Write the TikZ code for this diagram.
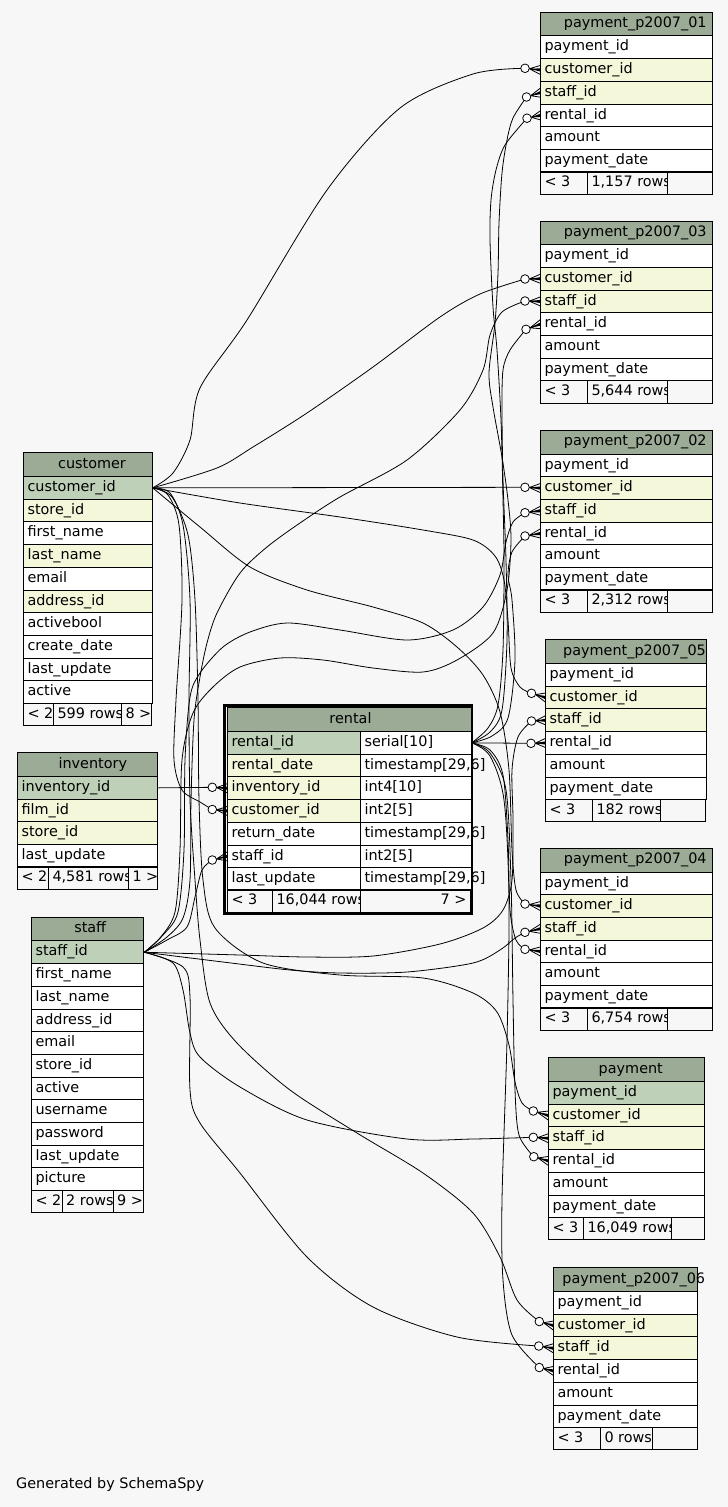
\documentclass[tikz,border=0pt]{standalone}
\usepackage{fontspec}
\setmainfont{DejaVu Sans}
\usetikzlibrary{calc}
\definecolor{headcol}{HTML}{9BAB96}
\definecolor{keycol}{HTML}{BED1B8}
\definecolor{idxcol}{HTML}{F4F7DA}
\definecolor{bgcol}{HTML}{F7F7F7}
\newcommand{\tabfont}{\fontsize{14.4}{17}\selectfont}
% table: name, x, y, width, title, rows, title shift
\newcommand{\dbtable}[7]{%
 \node[headcell, minimum width=#4pt] (#1) at (#2,#3) {};
 \node[headtext] (#1-title) at ($(#1.center)+(#7,3.65)$) {#5};
 \foreach \col/\lab/\kind [count=\i] in #6 {
  \node[rowcell, fill=\kind, minimum width=#4pt] (#1-\col) at (#2,#3+1+\i*22.7) {};
  \node[celltext] (#1-\col-txt) at ($(#1-\col.west)+(4,3.65)$) {\lab};
 }
}
% footer: name, x, y, right, divider 1, divider 2, texts
\newcommand{\dbfooter}[9]{%
 \draw[footline] (#2,#3) rectangle (#5,#3+22.7) (#5,#3) rectangle (#6,#3+22.7)
   (#6,#3) rectangle (#4,#3+22.7);
 \node[celltext] (#1-prev) at (#2+4,#3+15) {#7};
 \begin{scope}
  \clip (#5,#3) rectangle (#6,#3+22.7);
  \node[celltext] (#1-rows) at (#5+4,#3+15) {#8};
 \end{scope}
 \node[celltext] (#1-next) at (#6+4,#3+15) {#9};
}
% foreign key end: crow and circle
\newcommand{\fkend}[2]{%
 \coordinate (#1-a) at ($(#1)!4.3pt!(#2)$);
 \draw[fkcrow] (#1-a) -- ($(#2)+(0,-4.5)$) (#1-a) -- (#2) (#1-a) -- ($(#2)+(0,4.5)$);
 \fill (#1-a) -- ($(#2)+(0,-1.6)$) -- ($(#2)+(0,1.6)$) -- cycle;
 \node[fkdot] (#1-dot) at (#1) {};
}
\def\custrows{custid/customer\_id/keycol,storeid/store\_id/idxcol,%
first/first\_name/white,last/last\_name/idxcol,email/email/white,%
addrid/address\_id/idxcol,activeb/activebool/white,created/create\_date/white,%
update/last\_update/white,active/active/white}
\def\invrows{invid/inventory\_id/keycol,filmid/film\_id/idxcol,%
storeid/store\_id/idxcol,update/last\_update/white}
\def\staffrows{staffid/staff\_id/keycol,first/first\_name/white,%
last/last\_name/white,addrid/address\_id/white,email/email/white,%
storeid/store\_id/white,active/active/white,user/username/white,%
pass/password/white,update/last\_update/white,picture/picture/white}
\def\payrows{payid/payment\_id/white,custid/customer\_id/idxcol,%
staffid/staff\_id/idxcol,rentid/rental\_id/white,amount/amount/white,%
paydate/payment\_date/white}
\def\paykeyrows{payid/payment\_id/keycol,custid/customer\_id/idxcol,%
staffid/staff\_id/idxcol,rentid/rental\_id/white,amount/amount/white,%
paydate/payment\_date/white}
\def\rentalrows{rentid/rental\_id/serial[10]/keycol,%
rentdate/rental\_date/{timestamp[29,6]}/idxcol,%
invid/inventory\_id/int4[10]/idxcol,custid/customer\_id/int2[5]/idxcol,%
retdate/return\_date/{timestamp[29,6]}/white,staffid/staff\_id/int2[5]/white,%
update/last\_update/{timestamp[29,6]}/white}

\begin{document}
\begin{tikzpicture}[x=1pt,y=-1pt]
% Styles
 \tikzstyle{headcell}=[draw,fill=headcol,anchor=north west,inner sep=0,minimum height=23.7pt,line width=1pt]
 \tikzstyle{rowcell}=[draw,fill=white,anchor=north west,inner sep=0,minimum height=22.7pt,line width=1pt]
 \tikzstyle{celltext}=[anchor=base west,inner sep=0,font=\tabfont]
 \tikzstyle{headtext}=[anchor=base,inner sep=0,font=\tabfont]
 \tikzstyle{footline}=[draw,line width=1pt]
 \tikzstyle{fkline}=[line width=0.8pt]
 \tikzstyle{fkcrow}=[line width=0.8pt]
 \tikzstyle{fkdot}=[circle,draw,fill=white,inner sep=0,minimum size=8.6pt,line width=0.8pt]
% Background
 \useasboundingbox (0,0) rectangle (728,1507);
 \fill[bgcol] (0,0) rectangle (728,1507);
% Left tables
 \dbtable{cust}{23.3}{452.3}{128.4}{customer}{\custrows}{4}
 \dbfooter{cust}{23.3}{703}{151.7}{53.3}{121.3}{< 2}{599 rows}{8 >}
 \dbtable{inv}{17.3}{752.3}{140}{inventory}{\invrows}{5}
 \dbfooter{inv}{17.3}{866.8}{157.3}{48.3}{128.3}{< 2}{4,581 rows}{1 >}
 \dbtable{staff}{31.3}{916.7}{112}{staff}{\staffrows}{2.4}
 \dbfooter{staff}{31.3}{1190.1}{143.3}{62}{113}{< 2}{2 rows}{9 >}
% Rental
 \node[headcell,minimum width=243.4pt] (rental) at (227.3,707.3) {};
 \node[headtext] (rental-title) at ($(rental.center)+(1,3.65)$) {rental};
 \foreach \col/\lab/\type/\kind [count=\i] in \rentalrows {
  \node[rowcell,fill=\kind,minimum width=133pt] (rental-\col) at (227.3,708.3+\i*22.7) {};
  \node[rowcell,minimum width=110.4pt] (rental-\col-t) at (360.3,708.3+\i*22.7) {};
  \node[celltext] (rental-\col-txt) at ($(rental-\col.west)+(4,3.65)$) {\lab};
  \node[celltext] (rental-\col-ttxt) at ($(rental-\col-t.west)+(4,3.65)$) {\type};
 }
 \dbfooter{rental}{227.3}{889.9}{470.7}{272.3}{360.3}{< 3}{16,044 rows}{}
 \node[celltext,anchor=base east] (rental-more) at (466.7,904.9) {7 >};
 \draw[line width=2.8pt] (224.8,705.6) rectangle (472,913.7);
% Payment tables
 \dbtable{p01}{540.3}{11.7}{172}{payment\_p2007\_01}{\payrows}{8.5}
 \dbfooter{p01}{540.3}{171.6}{712.3}{587.3}{667.7}{< 3}{1,157 rows}{}
 \dbtable{p03}{540.3}{220.5}{172}{payment\_p2007\_03}{\payrows}{8.5}
 \dbfooter{p03}{540.3}{380.4}{712.3}{587.3}{667.7}{< 3}{5,644 rows}{}
 \dbtable{p02}{540.3}{429.8}{172}{payment\_p2007\_02}{\payrows}{8.5}
 \dbfooter{p02}{540.3}{589.7}{712.3}{587.3}{667.7}{< 3}{2,312 rows}{}
 \dbtable{p05}{545.3}{639.3}{160.4}{payment\_p2007\_05}{\payrows}{8.5}
 \dbfooter{p05}{545.3}{799.2}{705.7}{592.3}{660.3}{< 3}{182 rows}{}
 \dbtable{p04}{540.3}{847.8}{172}{payment\_p2007\_04}{\payrows}{8.5}
 \dbfooter{p04}{540.3}{1007.7}{712.3}{587.3}{667.7}{< 3}{6,754 rows}{}
 \dbtable{pay}{548.3}{1057.3}{156}{payment}{\paykeyrows}{4}
 \dbfooter{pay}{548.3}{1217.2}{704.3}{583.3}{671.7}{< 3}{16,049 rows}{}
 \dbtable{p06}{553.3}{1267.3}{144}{payment\_p2007\_06}{\payrows}{8}
 \dbfooter{p06}{553.3}{1427.2}{697.3}{600.3}{652.3}{< 3}{0 rows}{}
% Link ends
 \coordinate (rental-inv-o) at (212.3,787.3);
 \coordinate (rental-cust-o) at (212.3,809.5);
 \coordinate (rental-staff-o) at (212.3,860);
 \coordinate (p01-cust-o) at (525,68.3);
 \coordinate (p01-staff-o) at (526.5,97);
 \coordinate (p01-rent-o) at (527,118.2);
 \coordinate (p03-cust-o) at (525,279);
 \coordinate (p03-staff-o) at (525,301);
 \coordinate (p03-rent-o) at (526,329.3);
 \coordinate (p02-cust-o) at (525,487.3);
 \coordinate (p02-staff-o) at (525,512.7);
 \coordinate (p02-rent-o) at (525,536);
 \coordinate (p05-cust-o) at (531.5,693.3);
 \coordinate (p05-staff-o) at (531.5,721);
 \coordinate (p05-rent-o) at (531,743.3);
 \coordinate (p04-cust-o) at (525,904);
 \coordinate (p04-staff-o) at (525,932.3);
 \coordinate (p04-rent-o) at (525,949.3);
 \coordinate (pay-cust-o) at (533.3,1111);
 \coordinate (pay-staff-o) at (533.3,1137.3);
 \coordinate (pay-rent-o) at (533.8,1156.7);
 \coordinate (p06-cust-o) at (539.3,1321.5);
 \coordinate (p06-staff-o) at (538.8,1346);
 \coordinate (p06-rent-o) at (539.3,1367.5);
% Links from customer
 \draw[fkline] plot[smooth] coordinates {(cust-custid.east) (173,473) (190,440) (200,388) (247,320) (327,190) (400,108) (473,74) (p01-cust-o)};
 \draw[fkline] plot[smooth] coordinates {(cust-custid.east) (217,468) (253,447) (307,413) (373,367) (440,317) (480,294) (p03-cust-o)};
 \draw[fkline] (cust-custid.east) -- (p02-cust-o);
 \draw[fkline] plot[smooth] coordinates {(cust-custid.east) (240,503) (340,517) (423,530) (473,540) (495,556) (504,580) (508,620) (511,668) (520,687) (p05-cust-o)};
 \draw[fkline] plot[smooth] coordinates {(cust-custid.east) (200,527) (250,567) (307,590) (373,607) (423,623) (457,647) (483,675) (500,712) (509,770) (512,850) (516,890) (p04-cust-o)};
 \draw[fkline] plot[smooth] coordinates {(cust-custid.east) (172,497) (188,535) (195,600) (198,700) (199,800) (203,880) (215,928) (263,963) (340,975) (423,978) (473,993) (497,1012) (509,1045) (515,1082) (522,1103) (pay-cust-o)};
 \draw[fkline] plot[smooth] coordinates {(cust-custid.east) (170,493) (183,525) (190,600) (189,700) (190,800) (195,880) (200,940) (210,1003) (237,1043) (290,1090) (357,1133) (423,1173) (473,1213) (500,1257) (517,1300) (p06-cust-o)};
 \draw[fkline] plot[smooth] coordinates {(cust-custid.east) (168,495) (179,525) (182,600) (176,700) (174,760) (182,790) (200,802) (rental-cust-o)};
% Links from staff
 \draw[fkline] plot[smooth] coordinates {(staff-staffid.east) (167,940) (187,927) (195,897) (202,870) (rental-staff-o)};
 \draw[fkline] plot[smooth] coordinates {(staff-staffid.east) (167,937) (183,918) (190,880) (191,800) (194,720) (200,677) (207,643) (217,613) (240,573) (267,547) (300,523) (340,497) (407,460) (460,410) (483,370) (490,335) (502,312) (p03-staff-o)};
 \draw[fkline] plot[smooth] coordinates {(staff-staffid.east) (163,935) (178,912) (184,850) (185,760) (190,697) (200,673) (223,647) (250,632) (287,623) (340,630) (407,640) (453,630) (483,607) (500,575) (506,542) (513,522) (p02-staff-o)};
 \draw[fkline] plot[smooth] coordinates {(staff-staffid.east) (160,938) (175,912) (180,850) (182,760) (193,713) (213,687) (240,667) (280,658) (323,660) (373,668) (423,672) (457,660) (493,633) (507,590) (511,540) (508,500) (502,457) (493,407) (489,373) (495,323) (498,273) (499,223) (502,173) (507,140) (513,118) (p01-staff-o)};
 \draw[fkline] plot[smooth] coordinates {(staff-staffid.east) (240,955) (307,957) (373,956) (440,944) (483,928) (503,910) (512,880) (513,820) (512,770) (518,737) (p05-staff-o)};
 \draw[fkline] plot[smooth] coordinates {(staff-staffid.east) (223,962) (290,970) (340,973) (407,972) (473,963) (500,950) (515,938) (p04-staff-o)};
 \draw[fkline] plot[smooth] coordinates {(staff-staffid.east) (173,963) (183,990) (190,1033) (200,1057) (240,1087) (307,1120) (407,1139) (473,1139) (pay-staff-o)};
 \draw[fkline] plot[smooth] coordinates {(staff-staffid.east) (183,967) (190,997) (190,1090) (200,1123) (240,1173) (307,1257) (373,1307) (457,1337) (p06-staff-o)};
% Links from inventory and rental
 \draw[fkline] (inv-invid.east) -- (rental-inv-o);
 \draw[fkline] (rental-rentid-t.east) -- (p05-rent-o);
 \draw[fkline] plot[smooth] coordinates {(rental-rentid-t.east) (488,728) (498,705) (503,650) (504,560) (503,500) (501,420) (497,350) (493,307) (490,240) (491,200) (496,170) (505,145) (p01-rent-o)};
 \draw[fkline] plot[smooth] coordinates {(rental-rentid-t.east) (490,732) (502,710) (507,640) (506,560) (503,480) (502,410) (503,370) (510,350) (p03-rent-o)};
 \draw[fkline] plot[smooth] coordinates {(rental-rentid-t.east) (492,736) (508,718) (515,660) (512,600) (508,575) (512,552) (p02-rent-o)};
 \draw[fkline] plot[smooth] coordinates {(rental-rentid-t.east) (490,750) (503,775) (508,840) (510,910) (516,940) (p04-rent-o)};
 \draw[fkline] plot[smooth] coordinates {(rental-rentid-t.east) (490,753) (506,790) (511,880) (513,1000) (515,1090) (519,1135) (pay-rent-o)};
 \draw[fkline] plot[smooth] coordinates {(rental-rentid-t.east) (490,756) (504,800) (509,900) (507,1040) (502,1200) (503,1280) (512,1335) (p06-rent-o)};
% Crows and circles
 \fkend{rental-inv-o}{rental-invid.west}
 \fkend{rental-cust-o}{rental-custid.west}
 \fkend{rental-staff-o}{rental-staffid.west}
 \foreach \t in {p01,p03,p02,p05,p04,pay,p06} {
  \fkend{\t-cust-o}{\t-custid.west}
  \fkend{\t-staff-o}{\t-staffid.west}
  \fkend{\t-rent-o}{\t-rentid.west}
 }
% Caption
 \node[celltext] (caption) at (16,1488) {Generated by SchemaSpy};
\end{tikzpicture}
\end{document}
